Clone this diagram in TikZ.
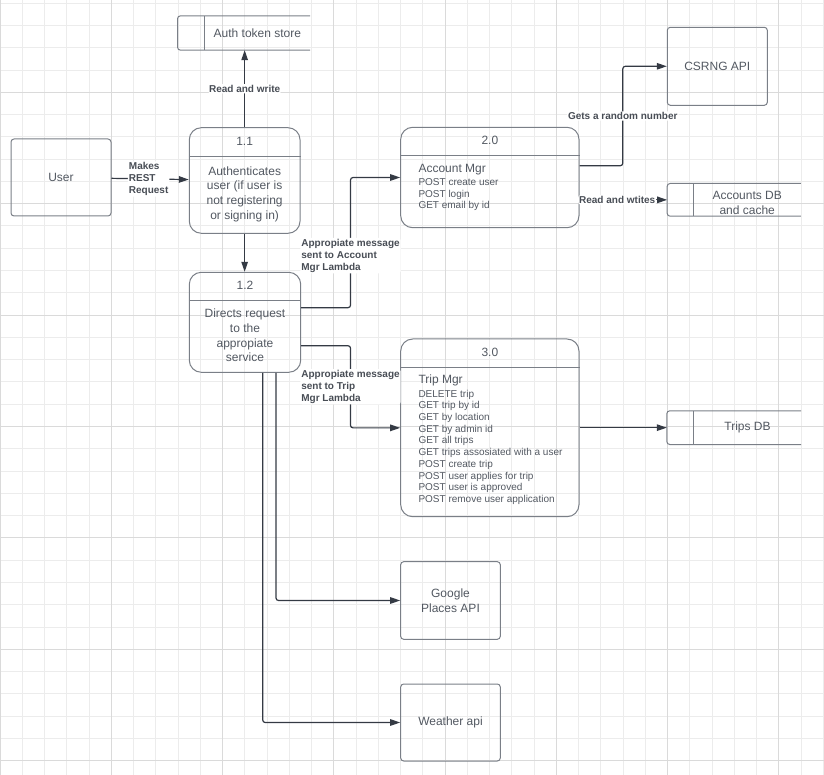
\documentclass[tikz,border=0pt]{standalone}
\usepackage{fontspec}
\setmainfont{Liberation Sans}
\usepackage{xcolor}
\usepackage{tikz}
\usetikzlibrary{positioning,arrows.meta}

\definecolor{gridminor}{RGB}{236,236,236}
\definecolor{gridmajor}{RGB}{218,218,218}
\definecolor{boxgray}{RGB}{122,127,135}
\definecolor{textgray}{RGB}{82,88,97}
\definecolor{linedark}{RGB}{52,58,68}
\definecolor{labelgray}{RGB}{72,77,85}

\newcommand\txtbig{\fontsize{12}{14.7}\selectfont}
\newcommand\txtsmall{\fontsize{10}{11.7}\selectfont}
\newcommand\txtlbl{\fontsize{10}{12}\selectfont\bfseries}

\begin{document}
\begin{tikzpicture}[x=1pt,y=-1pt,
    ext/.style={draw=boxgray,line width=1pt,rounded corners=3pt,inner sep=0pt,text=textgray,font=\txtbig,align=center},
    proc/.style={draw=boxgray,line width=1pt,rounded corners=12pt,inner sep=0pt},
    store/.style={inner sep=0pt},
    storeline/.style={draw=boxgray,line width=1pt,rounded corners=3pt},
    txt/.style={inner sep=0pt,text=textgray,font=\txtbig,align=center},
    ops/.style={inner sep=0pt,text=textgray,font=\txtsmall,align=left,anchor=north west},
    lbl/.style={fill=white,inner sep=1pt,text=labelgray,font=\txtlbl,align=left},
    flow/.style={draw=linedark,line width=1.2pt,rounded corners=2.5pt,-{Triangle[length=10pt,width=6.5pt]}}]

    \useasboundingbox (0,0) rectangle (824,775);

    % background grid
    \foreach \k in {0,...,37} \draw[gridminor,line width=1pt] (\k*22.25,0) -- (\k*22.25,775);
    \foreach \k in {0,...,34} \draw[gridminor,line width=1pt] (0,3.2+\k*22.28) -- (824,3.2+\k*22.28);
    \foreach \k in {0,5,...,35} \draw[gridmajor,line width=1pt] (\k*22.25,0) -- (\k*22.25,775);
    \foreach \k in {4,9,...,34} \draw[gridmajor,line width=1pt] (0,3.2+\k*22.28) -- (824,3.2+\k*22.28);

    % external entities
    \node[ext,minimum width=100,minimum height=77] (user) at (61,177.5) {User};
    \node[ext,minimum width=100,minimum height=78] (csrng) at (717.3,66.3) {CSRNG API};
    \node[ext,minimum width=99.6,minimum height=77.6] (google) at (450.5,600.5) {Google\\Places API};
    \node[ext,minimum width=99.6,minimum height=77] (weather) at (450.5,722.5) {Weather api};

    % processes
    \node[proc,minimum width=110.7,minimum height=105.6] (p11) at (244.65,180.5) {};
    \draw[boxgray,line width=1pt] ([yshift=-29.5]p11.north west) -- ([yshift=-29.5]p11.north east);
    \node[txt] (p11num) at ([yshift=-14]p11.north) {1.1};
    \node[txt] (p11txt) at (244.65,194) {Authenticates\\user (if user is\\not registering\\or signing in)};

    \node[proc,minimum width=111.4,minimum height=100] (p12) at (245,322.3) {};
    \draw[boxgray,line width=1pt] ([yshift=-28.7]p12.north west) -- ([yshift=-28.7]p12.north east);
    \node[txt] (p12num) at ([yshift=-14]p12.north) {1.2};
    \node[txt] (p12txt) at (245,335.5) {Directs request\\to the\\appropiate\\service};

    \node[proc,minimum width=178.3,minimum height=100.4] (p20) at (489.85,177.5) {};
    \draw[boxgray,line width=1pt] ([yshift=-28.7]p20.north west) -- ([yshift=-28.7]p20.north east);
    \node[txt] (p20num) at ([yshift=-13.5]p20.north) {2.0};
    \node[ops] (p20ops) at (418.3,164) {{\txtbig Account Mgr}\\[1.3pt]POST create user\\POST login\\GET email by id};

    \node[proc,minimum width=178.3,minimum height=177.7] (p30) at (489.85,427.85) {};
    \draw[boxgray,line width=1pt] ([yshift=-28.7]p30.north west) -- ([yshift=-28.7]p30.north east);
    \node[txt] (p30num) at ([yshift=-13.5]p30.north) {3.0};
    \node[ops] (p30ops) at (418.3,375) {{\txtbig Trip Mgr}\\[1.6pt]DELETE trip\\GET trip by id\\GET by location\\GET by admin id\\GET all trips\\GET trips assosiated with a user\\POST create trip\\POST user applies for trip\\POST user is approved\\POST remove user application};

    % data stores
    \node[store,minimum width=132.3,minimum height=34] (auth) at (243.85,33) {};
    \node[store,minimum width=133.4,minimum height=32.3] (accdb) at (734,199.85) {};
    \node[store,minimum width=134,minimum height=33.3] (tripsdb) at (734,427.65) {};
    \foreach \s in {auth,accdb,tripsdb} {
        \draw[storeline] (\s.north east) -- (\s.north west) -- (\s.south west) -- (\s.south east);
        \draw[storeline] ([xshift=26.7]\s.north west) -- ([xshift=26.7]\s.south west);
    }
    \node[txt] (authtxt) at ([xshift=13.5]auth.center) {Auth token store};
    \node[txt] (accdbtxt) at (747.2,203) {Accounts DB\\and cache};
    \node[txt] (tripsdbtxt) at (747.5,427.5) {Trips DB};

    % flows
    \draw[flow] (user) -- node[lbl,xshift=-1.5]{Makes\\REST\\Request} (p11);
    \draw[flow] (p11.north) -- node[lbl]{Read and write} (p11.north |- auth.south);
    \draw[flow] (p11.south) -- (p11.south |- p12.north);
    \draw[flow] ([yshift=14.6]p12.east) -- ++(49.3,0) |- node[lbl,pos=0.2]{Appropiate message\\sent to Account\\Mgr Lambda} (p20.west);
    \draw[flow] ([yshift=-23.4]p12.east) -- ++(49.3,0) |- node[lbl,pos=0.25]{Appropiate message\\sent to Trip\\Mgr Lambda} (p30.west);
    \draw[flow] ([yshift=11.8]p20.east) -- ++(43.3,0) |- node[lbl,pos=0.25]{Gets a random number} (csrng.west);
    \draw[flow] (p20.east |- accdb.west) -- node[lbl,pos=0.43]{Read and wtites} (accdb.west);
    \draw[flow] (p30.east |- tripsdb.west) -- (tripsdb.west);
    \draw[flow] ([xshift=31]p12.south) |- (google.west);
    \draw[flow] ([xshift=17.7]p12.south) |- (weather.west);

\end{tikzpicture}
\end{document}
